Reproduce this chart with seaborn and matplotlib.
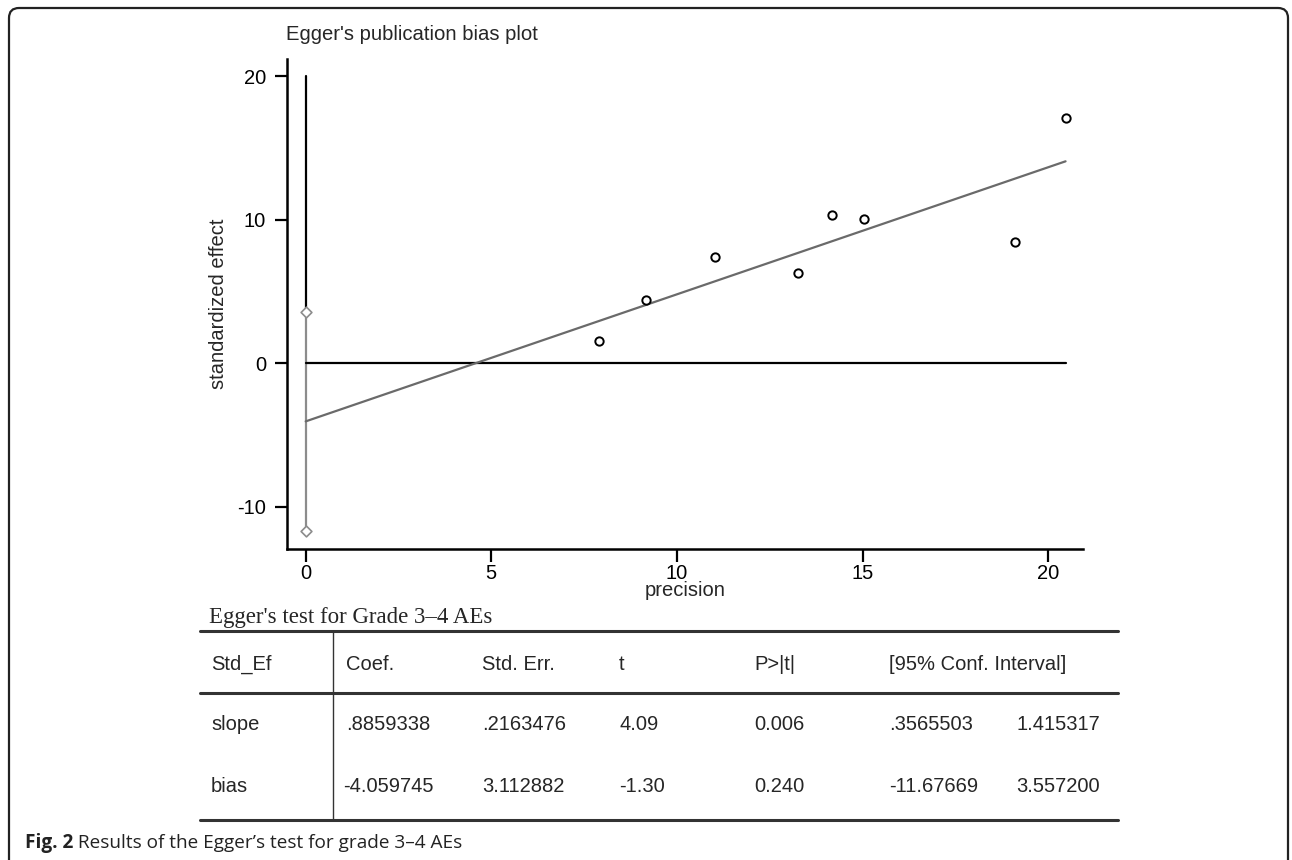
import numpy as np
import pandas as pd
import matplotlib
matplotlib.use("Agg")
import matplotlib.pyplot as plt
import seaborn as sns
from matplotlib.patches import FancyBboxPatch
from matplotlib.lines import Line2D
from matplotlib.transforms import IdentityTransform

# ---------------- data ----------------
precision = [7.91, 9.16, 11.03, 13.27, 14.17, 15.04, 19.10, 20.47]
std_effect = [1.51, 4.42, 7.37, 6.28, 10.35, 10.07, 8.44, 17.07]

bias_coef = -4.059745
slope_coef = 0.8859338
bias_ci = [-11.67669, 3.557200]

x_ticks = [0, 5, 10, 15, 20]
y_ticks = [-10, 0, 10, 20]

plot_title = "Egger's publication bias plot"
x_label = "precision"
y_label = "standardized effect"

table_title = "Egger's test for Grade 3\u20134 AEs"
table_header = ["Std_Ef", "Coef.", "Std. Err.", "t", "P>|t|", "[95% Conf. Interval]", ""]
row_slope = ["slope", ".8859338", ".2163476", "4.09", "0.006", ".3565503", "1.415317"]
row_bias = ["bias", "-4.059745", "3.112882", "-1.30", "0.240", "-11.67669", "3.557200"]

caption_bold = "Fig. 2"
caption_text = " Results of the Egger\u2019s test for grade 3\u20134 AEs"

# ---------------- figure ----------------
sns.set_style("ticks")
plt.rcParams['font.family'] = ['Liberation Sans', 'DejaVu Sans']
plt.rcParams['axes.unicode_minus'] = False

W, H = 1292, 860
fig = plt.figure(figsize=(W / 100, H / 100), dpi=100)


def fx(x):
    return x / W


def fy(y):
    return 1 - y / H


ax = fig.add_axes([fx(287), fy(549), fx(1083) - fx(287), fy(59) - fy(549)])

x_max = max(precision)
# CI line at precision 0 (gray) and black line above it
sns.lineplot(x=[0, 0], y=bias_ci, ax=ax, color="#8c8c8c", lw=1.6, sort=False, estimator=None)
sns.lineplot(x=[0, 0], y=[bias_ci[1], y_ticks[-1]], ax=ax, color="black", lw=1.6,
             sort=False, estimator=None)
sns.scatterplot(x=[0, 0], y=bias_ci, ax=ax, marker="D", s=30, facecolor="white",
                edgecolor="#8c8c8c", linewidth=1.2, zorder=5)
# zero reference line
sns.lineplot(x=[0, x_max], y=[0, 0], ax=ax, color="black", lw=1.6, estimator=None)
# fitted regression line
fit_x = np.array([0, x_max])
fit_df = pd.DataFrame({"x": fit_x, "y": bias_coef + slope_coef * fit_x})
sns.lineplot(data=fit_df, x="x", y="y", ax=ax, color="#6a6a6a", lw=1.6, estimator=None)
# studies
sns.scatterplot(x=precision, y=std_effect, ax=ax, marker="o", s=36, facecolor="white",
                edgecolor="black", linewidth=1.4, zorder=6)

ax.set_xlim(-0.504, 20.94)
ax.set_ylim(-12.96, 21.21)
ax.set_xticks(x_ticks)
ax.set_yticks(y_ticks)
ax.tick_params(axis="both", length=9, width=1.6, labelsize=14.5, colors="black")
ax.tick_params(axis="x", pad=1.5)
ax.tick_params(axis="y", pad=6)
for s in ["top", "right"]:
    ax.spines[s].set_visible(False)
for s in ["left", "bottom"]:
    ax.spines[s].set_linewidth(1.8)
    ax.spines[s].set_color("black")
ax.set_xlabel("")
ax.set_ylabel("")

fig.text(fx(286), fy(34), plot_title, fontsize=14.6, ha="left", va="center")
fig.text(fx(685), fy(591), x_label, fontsize=14.5, ha="center", va="center")
fig.text(fx(218), fy(304), y_label, fontsize=14.5, ha="center", va="center", rotation=90)

# ---------------- table ----------------
fig.text(fx(209), fy(618), table_title, fontsize=16.5, ha="left", va="center",
         family=["Liberation Serif", "DejaVu Serif"])

col_x = [211, 346, 482, 619, 754, 889, 1016]
for y, row in [(664, table_header), (725, row_slope), (787, row_bias)]:
    for i, (x, txt) in enumerate(zip(col_x, row)):
        if txt:
            xx = x - 3 if (i == 1 and txt.startswith("-")) else x
            fig.text(fx(xx), fy(y), txt, fontsize=14.5, ha="left", va="center")

for y in [631, 693, 820]:
    fig.add_artist(Line2D([fx(200), fx(1118)], [fy(y), fy(y)], transform=fig.transFigure,
                          color="#333333", lw=2.2))
fig.add_artist(Line2D([fx(333), fx(333)], [fy(631), fy(820)], transform=fig.transFigure,
                      color="#333333", lw=1.0))

# ---------------- caption ----------------
cap_font = ["Open Sans", "DejaVu Sans"]
t1 = fig.text(fx(25), fy(843), caption_bold, fontsize=13.7, fontweight="bold", ha="left",
              va="center", family=cap_font, color="#222222")
renderer = fig.canvas.get_renderer()
bb = t1.get_window_extent(renderer=renderer)
fig.text(bb.x1 / W, fy(843), caption_text, fontsize=13.7, ha="left", va="center",
         family=cap_font, color="#222222")

# ---------------- frame ----------------
frame = FancyBboxPatch((9, -12), 1279, H - 8 + 12, boxstyle="round,pad=0,rounding_size=10",
                       transform=IdentityTransform(), facecolor="none", edgecolor="#222222",
                       lw=1.6)
fig.add_artist(frame)

fig.savefig("out.png", dpi=100)
